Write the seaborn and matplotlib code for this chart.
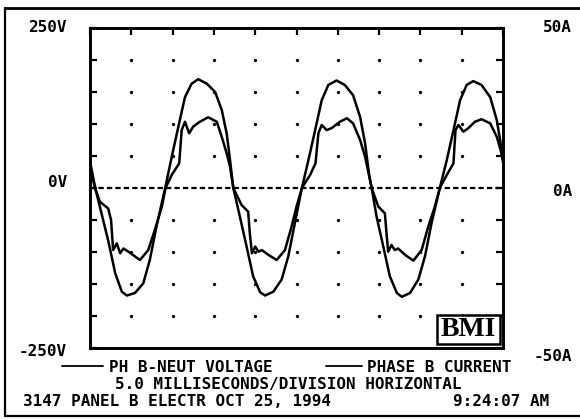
import numpy as np
import pandas as pd
import matplotlib
matplotlib.use("Agg")
import matplotlib.pyplot as plt
from matplotlib.lines import Line2D
from matplotlib.patches import Rectangle
import seaborn as sns

# PH B-NEUT voltage trace (ms, volts)
volt_t = [0.0, 0.6, 1.4, 2.2, 3.05, 3.85, 4.45, 5.45, 6.45, 7.25, 8.05, 9.1,
          9.9, 10.7, 11.5, 12.3, 13.1, 14.15, 15.15, 15.95, 16.55, 16.95,
          17.35, 18.15, 18.95, 19.75, 20.6, 21.2, 22.2, 23.2, 24.0, 24.8,
          25.65, 26.45, 27.25, 28.05, 28.85, 29.85, 30.85, 31.85, 32.7, 33.3,
          33.8, 34.1, 34.7, 35.5, 36.3, 37.15, 37.75, 38.75, 39.75, 40.55,
          41.35, 42.35, 43.2, 44.0, 44.8, 45.6, 46.4, 47.4, 48.45, 49.25,
          49.65, 50.0]
volt_v = [42, 2, -40, -82, -133, -162, -168, -164, -149, -112, -60, 0,
          49, 96, 142, 163, 170, 163, 150, 122, 85, 44,
          0, -45, -91, -138, -163, -168, -162, -143, -107, -55,
          0, 44, 90, 137, 161, 168, 161, 145, 111, 70,
          20, 0, -45, -91, -138, -164, -170, -164, -143, -107,
          -55, 0, 44, 90, 137, 161, 167, 161, 142, 106,
          75, 40]

# PHASE B current trace (ms, amps)
curr_t = [0.0, 0.6, 1.2, 2.2, 2.55, 2.8, 3.25, 3.65, 4.05, 4.65, 6.05, 7.05,
          7.85, 8.7, 9.15, 9.9, 10.8, 11.1, 11.5, 12.0, 12.5, 13.3, 14.3,
          15.35, 15.95, 16.55, 16.95,
          17.35, 18.35, 19.15, 19.35, 19.6, 20.0, 20.4, 20.8, 21.6, 22.6,
          23.6, 24.4, 25.0, 25.65, 26.65, 27.3, 27.65, 28.05, 28.65, 29.25,
          30.25, 31.1, 31.85, 32.7, 33.3, 33.9,
          34.1, 34.9, 35.7, 35.9, 36.1, 36.5, 36.9, 37.3, 38.15, 39.15,
          40.15, 40.95, 41.75, 42.35, 43.2, 44.0, 44.25, 44.6, 45.2, 45.8,
          46.6, 47.4, 48.45, 49.25, 49.65, 50.0]
curr_a = [6.7, 0, -4.3, -6.4, -10.0, -19.4, -17.3, -20.4, -18.9, -19.9, -22.5, -19.4,
          -13.1, -5.8, 0, 4.1, 7.7, 18.1, 20.7, 17.1, 19.2, 20.7, 22.1,
          20.7, 16.0, 10.8, 6.7,
          0, -5.3, -7.4, -14.2, -20.4, -18.3, -19.9, -19.4, -20.9, -22.5,
          -19.4, -12.1, -5.8, 0, 4.1, 7.7, 17.1, 19.7, 18.1, 18.7,
          20.7, 21.8, 20.2, 15.0, 9.8, 2.5,
          0, -5.8, -7.9, -14.2, -19.9, -17.8, -19.4, -18.9, -20.9, -22.7,
          -19.4, -12.1, -5.8, 0, 4.1, 7.7, 18.1, 19.7, 17.6, 18.7,
          20.7, 21.5, 20.2, 16.0, 12.4, 8.8]

volt_labels = ["250V", "0V", "-250V"]
curr_labels = ["50A", "0A", "-50A"]
legend_labels = ["PH B-NEUT VOLTAGE", "PHASE B CURRENT"]
footer_scale = "5.0 MILLISECONDS/DIVISION HORIZONTAL"
footer_site = "3147 PANEL B ELECTR OCT 25, 1994"
footer_time = "9:24:07 AM"

sns.set_style("white")
plt.rcParams["font.family"] = ["DejaVu Sans Mono"]
plt.rcParams["font.weight"] = "bold"
plt.rcParams["text.color"] = "black"
plt.rcParams["lines.solid_joinstyle"] = "round"

W, H = 580, 420
fig = plt.figure(figsize=(5.8, 4.2), dpi=100)
ax = fig.add_axes([90 / W, 1 - 348 / H, 413 / W, 320 / H])
ax2 = ax.twinx()

volt = pd.DataFrame({"t": volt_t, "v": volt_v})
curr = pd.DataFrame({"t": curr_t, "a": curr_a})

# dotted graticule and dashed zero line
gx, gy = np.meshgrid(np.arange(5, 50, 5), np.arange(-200, 201, 50))
keep = gy != 0
ax.plot(gx[keep], gy[keep], "o", ms=2.4, color="black", mec="none")
ax.axhline(0, color="black", lw=1.6, ls=(0, (2.4, 1.4)))

sns.lineplot(data=volt, x="t", y="v", ax=ax, color="black", lw=1.8,
             estimator=None, sort=False)
sns.lineplot(data=curr, x="t", y="a", ax=ax2, color="black", lw=1.8,
             estimator=None, sort=False)

ax.set_xlim(0, 50)
ax.set_ylim(-250, 250)
ax2.set_ylim(-50, 50)
ax.set_xticks(np.arange(0, 51, 5))
ax.set_yticks(np.arange(-250, 251, 50))
ax.tick_params(direction="in", length=5, width=1.6, top=True, right=True,
               labelleft=False, labelbottom=False, color="black")
ax2.set_yticks([])
for a in (ax, ax2):
    a.set_xlabel("")
    a.set_ylabel("")
    for s in a.spines.values():
        s.set_color("black")
        s.set_linewidth(1.9)

# scale labels at the corners and the middle
for lab, yy in zip(volt_labels, [1.003, 0.516, -0.012]):
    ax.text(-0.056, yy, lab, transform=ax.transAxes, ha="right", va="center",
            fontsize=11.5)
for lab, yy in zip(curr_labels, [1.0, 0.488, -0.028]):
    ax.text(1.167, yy, lab, transform=ax.transAxes, ha="right", va="center",
            fontsize=11.5)

# BMI logo box
ax.add_patch(Rectangle((0.840, 0.013), 0.153, 0.090, transform=ax.transAxes,
                       fill=True, facecolor="white", edgecolor="black", lw=1.8,
                       zorder=5))
ax.text(0.915, 0.058, "BMI", transform=ax.transAxes, ha="center", va="center",
        family="Liberation Serif", weight="bold", fontsize=20, color="black",
        zorder=6)

# legend lines and footer
def fx(px):
    return px / W

def fy(py):
    return 1 - py / H

fig.add_artist(Line2D([fx(62), fx(103)], [fy(366), fy(366)], color="black", lw=1.3))
fig.add_artist(Line2D([fx(326), fx(362)], [fy(366), fy(366)], color="black", lw=1.3))
fig.text(fx(109), fy(367), legend_labels[0], ha="left", va="center", fontsize=11.5)
fig.text(fx(367), fy(367), legend_labels[1], ha="left", va="center", fontsize=11.5)
fig.text(fx(115), fy(385), footer_scale, ha="left", va="center", fontsize=11.5)
fig.text(fx(23), fy(402), footer_site, ha="left", va="center", fontsize=11.5)
fig.text(fx(453), fy(402), footer_time, ha="left", va="center", fontsize=11.5)

# outer frame (left, top, bottom edges show in the scan)
fig.add_artist(Line2D([fx(4.5), fx(4.5)], [fy(8), fy(416)], color="black", lw=1.6))
fig.add_artist(Line2D([fx(4.5), fx(580)], [fy(8), fy(8)], color="black", lw=2.0))
fig.add_artist(Line2D([fx(4.5), fx(580)], [fy(416), fy(416)], color="black", lw=1.6))

fig.savefig("out.png", dpi=100)
